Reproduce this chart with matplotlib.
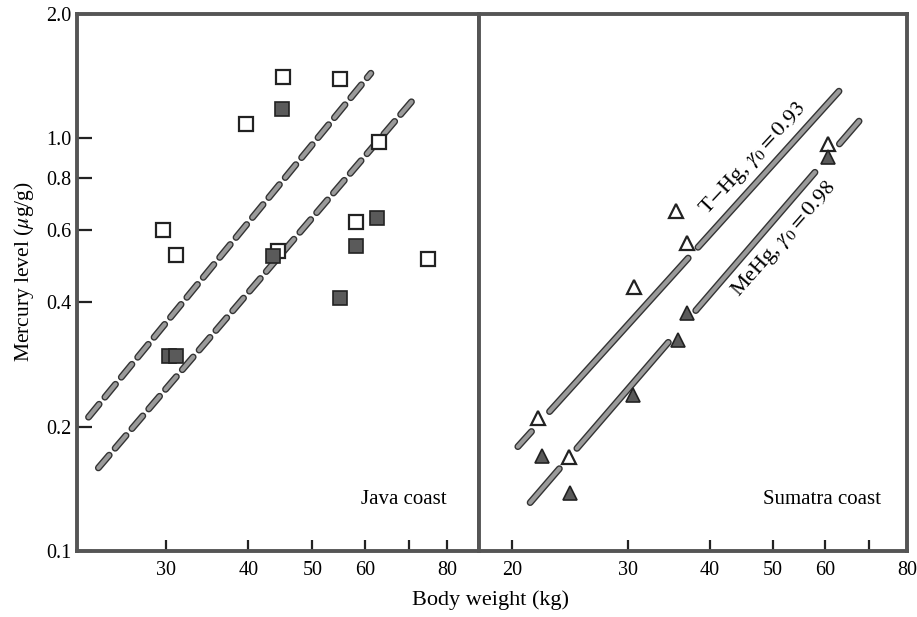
import numpy as np
import matplotlib.pyplot as plt
import matplotlib.patheffects as pe

plt.rcParams['font.family'] = ['Liberation Serif', 'DejaVu Serif']
plt.rcParams['mathtext.fontset'] = 'stix'

# Java coast: body weight (kg) vs mercury level (ug/g)
java_thg_x = [45.2, 55.0, 39.7, 63.1, 29.7, 31.1, 44.4, 58.3, 74.9]
java_thg_y = [1.41, 1.39, 1.08, 0.98, 0.60, 0.52, 0.534, 0.625, 0.51]
java_mehg_x = [45.0, 62.7, 58.2, 43.6, 55.0, 30.3, 31.1]
java_mehg_y = [1.175, 0.642, 0.548, 0.518, 0.411, 0.296, 0.296]
java_fit_thg_x = [22.9, 61.3]
java_fit_thg_y = [0.211, 1.437]
java_fit_mehg_x = [23.7, 71.5]
java_fit_mehg_y = [0.159, 1.254]

# Sumatra coast
sum_thg_x = [35.6, 36.9, 30.7, 60.7, 21.9, 24.4]
sum_thg_y = [0.668, 0.558, 0.436, 0.969, 0.21, 0.169]
sum_mehg_x = [60.7, 37.0, 35.8, 30.6, 22.2, 24.5]
sum_mehg_y = [0.90, 0.377, 0.324, 0.239, 0.170, 0.138]
sum_fit_thg_x = [20.4, 63.0]
sum_fit_thg_y = [0.179, 1.30]
sum_fit_mehg_x = [21.3, 67.6]
sum_fit_mehg_y = [0.131, 1.10]
# gaps in the fitted lines (x ranges left blank)
sum_thg_gaps = [(21.4, 22.8), (37.1, 38.4)]
sum_mehg_gaps = [(23.6, 25.1), (34.6, 38.1), (57.9, 63.1)]

y_ticks = [0.1, 0.2, 0.4, 0.6, 0.8, 1.0, 2.0]
y_labels = ['0.1', '0.2', '0.4', '0.6', '0.8', '1.0', '2.0']
java_xticks = [30, 40, 50, 60, 70, 80]
java_xlabels = ['30', '40', '50', '60', '', '80']
sum_xticks = [20, 30, 40, 50, 60, 70, 80]
sum_xlabels = ['20', '30', '40', '50', '60', '', '80']

spine_col = '#555555'
line_fx = [pe.Stroke(linewidth=5, foreground='#333333'), pe.Normal()]


def fit_line(xs, ys, x0, x1):
    # straight line in log-log space through the two fit points
    lx, ly = np.log10(xs), np.log10(ys)
    slope = (ly[1] - ly[0]) / (lx[1] - lx[0])
    xx = np.logspace(np.log10(x0), np.log10(x1), 20)
    yy = 10 ** (ly[0] + slope * (np.log10(xx) - lx[0]))
    return xx, yy


def draw_segments(ax, xs, ys, gaps):
    edges = [xs[0]] + [g for gap in gaps for g in gap] + [xs[1]]
    for i in range(0, len(edges), 2):
        xx, yy = fit_line(xs, ys, edges[i], edges[i + 1])
        ax.plot(xx, yy, color='#9a9a9a', lw=3, solid_capstyle='round',
                path_effects=line_fx, zorder=2)


def style_axis(ax):
    ax.set_xscale('log')
    ax.set_yscale('log')
    ax.set_ylim(0.1, 2.0)
    ax.minorticks_off()
    for s in ax.spines.values():
        s.set_color(spine_col)
        s.set_linewidth(2.8)
    ax.tick_params(axis='x', direction='in', length=8, width=1.6,
                   labelsize=14.5, pad=7, color='#222222')
    ax.tick_params(axis='y', direction='in', length=11, width=1.6,
                   labelsize=14.5, pad=4, color='#222222')


fig = plt.figure(figsize=(9.17, 6.17), dpi=100)
ax1 = fig.add_axes([0.084, 0.107, 0.4384, 0.8703])
ax2 = fig.add_axes([0.5224, 0.107, 0.4667, 0.8703])

# Java coast panel
style_axis(ax1)
ax1.set_xlim(22.0, 89.4)
for fx, fy in [(java_fit_thg_x, java_fit_thg_y), (java_fit_mehg_x, java_fit_mehg_y)]:
    xx, yy = fit_line(fx, fy, fx[0], fx[1])
    ax1.plot(xx, yy, color='#9a9a9a', lw=3, linestyle=(0, (4, 2.2)),
             dash_capstyle='round', path_effects=line_fx, zorder=2)
ax1.plot(java_thg_x, java_thg_y, 's', ms=9.5, mfc='white', mec='#222222',
         mew=1.6, zorder=3)
ax1.plot(java_mehg_x, java_mehg_y, 's', ms=9.5, mfc='#5a5a5a', mec='#222222',
         mew=1.2, zorder=3)
ax1.set_yticks(y_ticks)
ax1.set_yticklabels(y_labels)
ax1.set_xticks(java_xticks)
ax1.set_xticklabels(java_xlabels)
ax1.text(0.92, 0.095, 'Java coast', transform=ax1.transAxes, ha='right',
         va='center', fontsize=15)

# Sumatra coast panel
style_axis(ax2)
ax2.set_xlim(17.8, 80)
draw_segments(ax2, sum_fit_thg_x, sum_fit_thg_y, sum_thg_gaps)
draw_segments(ax2, sum_fit_mehg_x, sum_fit_mehg_y, sum_mehg_gaps)
ax2.plot(sum_thg_x, sum_thg_y, '^', ms=9.5, mfc='white', mec='#222222',
         mew=1.6, zorder=3)
ax2.plot(sum_mehg_x, sum_mehg_y, '^', ms=9.5, mfc='#5a5a5a', mec='#222222',
         mew=1.2, zorder=3)
ax2.set_yticks([])
ax2.set_xticks(sum_xticks)
ax2.set_xticklabels(sum_xlabels)
ax2.text(0.94, 0.095, 'Sumatra coast', transform=ax2.transAxes, ha='right',
         va='center', fontsize=15)
ax2.text(46.7, 0.89, 'T$-$Hg, $\\gamma_0 = 0.93$', rotation=47, ha='center',
         va='center', fontsize=16, rotation_mode='anchor')
ax2.text(52.0, 0.57, 'MeHg, $\\gamma_0 = 0.98$', rotation=48.5, ha='center',
         va='center', fontsize=16, rotation_mode='anchor')

fig.text(0.026, 0.559, 'Mercury level ($\\mu$g/g)', rotation=90,
         ha='center', va='center', fontsize=15.5)
fig.text(0.535, 0.027, 'Body weight (kg)', ha='center', va='center',
         fontsize=16)

fig.savefig('out.png', dpi=100)
